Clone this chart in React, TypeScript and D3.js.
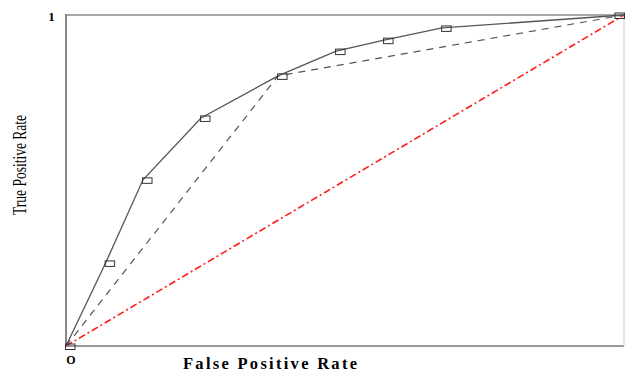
import React from "react";
import * as d3 from "d3";

// ROC curve points (false positive rate, true positive rate)
const fpr = [0, 0.071, 0.138, 0.242, 0.38, 0.484, 0.57, 0.674, 1];
const tpr = [0, 0.251, 0.502, 0.689, 0.816, 0.891, 0.924, 0.961, 1];
// convex-hull style dashed path
const hullFpr = [0, 0.38, 1];
const hullTpr = [0, 0.816, 1];
// random classifier diagonal
const diagFpr = [0, 1];
const diagTpr = [0, 1];

const W = 625;
const H = 374;
const left = 66;
const right = 624;
const top = 15;
const bottom = 346;

const App = () => {
  const x = d3.scaleLinear().domain([0, 1]).range([left, right]);
  const y = d3.scaleLinear().domain([0, 1]).range([bottom, top]);

  const line = d3
    .line<[number, number]>()
    .x((d) => x(d[0]))
    .y((d) => y(d[1]));

  const roc = fpr.map((v, i) => [v, tpr[i]] as [number, number]);
  const hull = hullFpr.map((v, i) => [v, hullTpr[i]] as [number, number]);
  const diag = diagFpr.map((v, i) => [v, diagTpr[i]] as [number, number]);

  return (
    <svg
      width={W}
      height={H}
      style={{ position: "fixed", left: 0, top: 0, background: "#fff" }}
    >
      {/* frame */}
      <line x1={left} x2={right} y1={top} y2={top} stroke="#a8a8a8" strokeWidth={2} />
      <line x1={left} x2={right} y1={bottom} y2={bottom} stroke="#999" strokeWidth={2} />
      <line x1={left} x2={left} y1={top - 1} y2={bottom + 1} stroke="#888" strokeWidth={2} />
      <line x1={right} x2={right} y1={top} y2={bottom} stroke="#ddd" strokeWidth={1.5} />

      {/* diagonal */}
      <path
        d={line(diag) || ""}
        fill="none"
        stroke="#ff1a1a"
        strokeWidth={1.6}
        strokeDasharray="7,3,2,3"
      />
      {/* dashed hull */}
      <path
        d={line(hull) || ""}
        fill="none"
        stroke="#555"
        strokeWidth={1.2}
        strokeDasharray="7,6"
      />
      {/* ROC curve */}
      <path d={line(roc) || ""} fill="none" stroke="#555" strokeWidth={1.3} />
      {roc.map((d, i) => (
        <rect
          key={i}
          x={Math.min(x(d[0]) - 0.5, right - 9)}
          y={y(d[1]) - 2}
          width={9.5}
          height={5.5}
          fill="none"
          stroke="#333"
          strokeWidth={1}
        />
      ))}

      {/* labels */}
      <text
        x={51.5}
        y={21}
        textAnchor="middle"
        fontFamily="Liberation Serif, serif"
        fontWeight="bold"
        fontSize={13}
      >
        1
      </text>
      <text
        x={71}
        y={364}
        textAnchor="middle"
        fontFamily="Liberation Serif, serif"
        fontWeight="bold"
        fontSize={12}
      >
        O
      </text>
      <text
        x={183}
        y={369}
        fontFamily="Liberation Serif, serif"
        fontWeight="bold"
        fontSize={16.5}
        textLength={174}
        lengthAdjust="spacing"
      >
        False Positive Rate
      </text>
      <text
        transform="translate(26,215) rotate(-90)"
        fontFamily="Liberation Serif, serif"
        fontSize={18}
        textLength={100}
        lengthAdjust="spacingAndGlyphs"
      >
        True Positive Rate
      </text>
    </svg>
  );
};

export default App;
